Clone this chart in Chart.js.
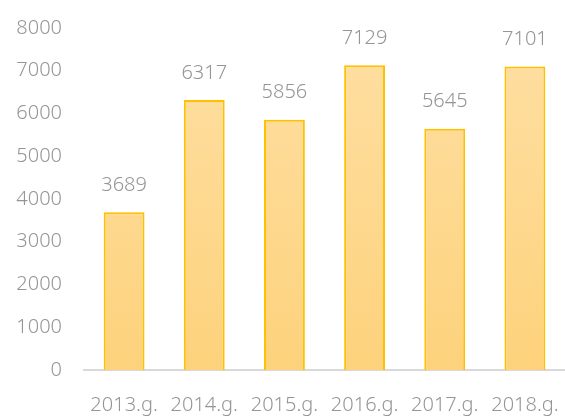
<!DOCTYPE html>
<html>
<head>
<meta charset="utf-8">
<script src="https://cdn.jsdelivr.net/npm/chart.js@4"></script>
<style>
  html, body { margin: 0; padding: 0; background: #fff; }
  #wrap { width: 565px; height: 417px; }
</style>
</head>
<body>
<div id="wrap"><canvas id="myChart" width="565" height="417"></canvas></div>
<script>
var years = ['2013.g.', '2014.g.', '2015.g.', '2016.g.', '2017.g.', '2018.g.'];
var values = [3689, 6317, 5856, 7129, 5645, 7101];
var yTicks = [0, 1000, 2000, 3000, 4000, 5000, 6000, 7000, 8000];

var ctx = document.getElementById('myChart').getContext('2d');
var textGray = '#959595';

// value labels above bars
var topLabels = {
  id: 'topLabels',
  afterDatasetsDraw: function (chart) {
    var c = chart.ctx;
    var meta = chart.getDatasetMeta(0);
    c.save();
    c.font = '300 20px "Noto Sans"';
    c.fillStyle = textGray;
    c.textAlign = 'center';
    c.textBaseline = 'middle';
    meta.data.forEach(function (bar, i) {
      c.fillText(values[i], bar.x, bar.y - 27);
    });
    c.restore();
  }
};

var myChart = new Chart(ctx, {
  type: 'bar',
  data: {
    labels: years,
    datasets: [{
      data: values,
      backgroundColor: function (context) {
        var area = context.chart.chartArea;
        if (!area) return '#fdd684';
        var g = context.chart.ctx.createLinearGradient(0, area.top, 0, area.bottom);
        g.addColorStop(0, '#fedfa3');
        g.addColorStop(1, '#fdd27c');
        return g;
      },
      borderColor: '#ffc000',
      borderWidth: 2,
      categoryPercentage: 1,
      barPercentage: 0.51
    }]
  },
  plugins: [topLabels],
  options: {
    responsive: false,
    animation: false,
    layout: { padding: { top: 28, right: -3, left: 0, bottom: 0 } },
    plugins: {
      legend: { display: false },
      tooltip: { enabled: false }
    },
    scales: {
      x: {
        grid: { display: false, drawTicks: false },
        border: { color: '#d9d9d9', width: 2 },
        ticks: {
          color: textGray,
          font: { size: 20, family: '"Noto Sans"', weight: 300 },
          padding: 23,
          maxRotation: 0,
          autoSkip: false
        },
        afterFit: function (s) {
          s.height = 47;
          s.paddingLeft = 0;
          s.paddingRight = 0;
        }
      },
      y: {
        min: 0,
        max: 8000,
        afterBuildTicks: function (s) {
          s.ticks = yTicks.map(function (v) { return { value: v }; });
        },
        grid: { display: false, drawTicks: false },
        border: { display: false },
        ticks: {
          color: textGray,
          font: { size: 20, family: '"Noto Sans"', weight: 300 },
          padding: 22,
          callback: function (v) { return String(v); }
        },
        afterFit: function (s) {
          s.width = 84;
          s.paddingTop = 0;
          s.paddingBottom = 0;
        }
      }
    }
  }
});
</script>
</body>
</html>
